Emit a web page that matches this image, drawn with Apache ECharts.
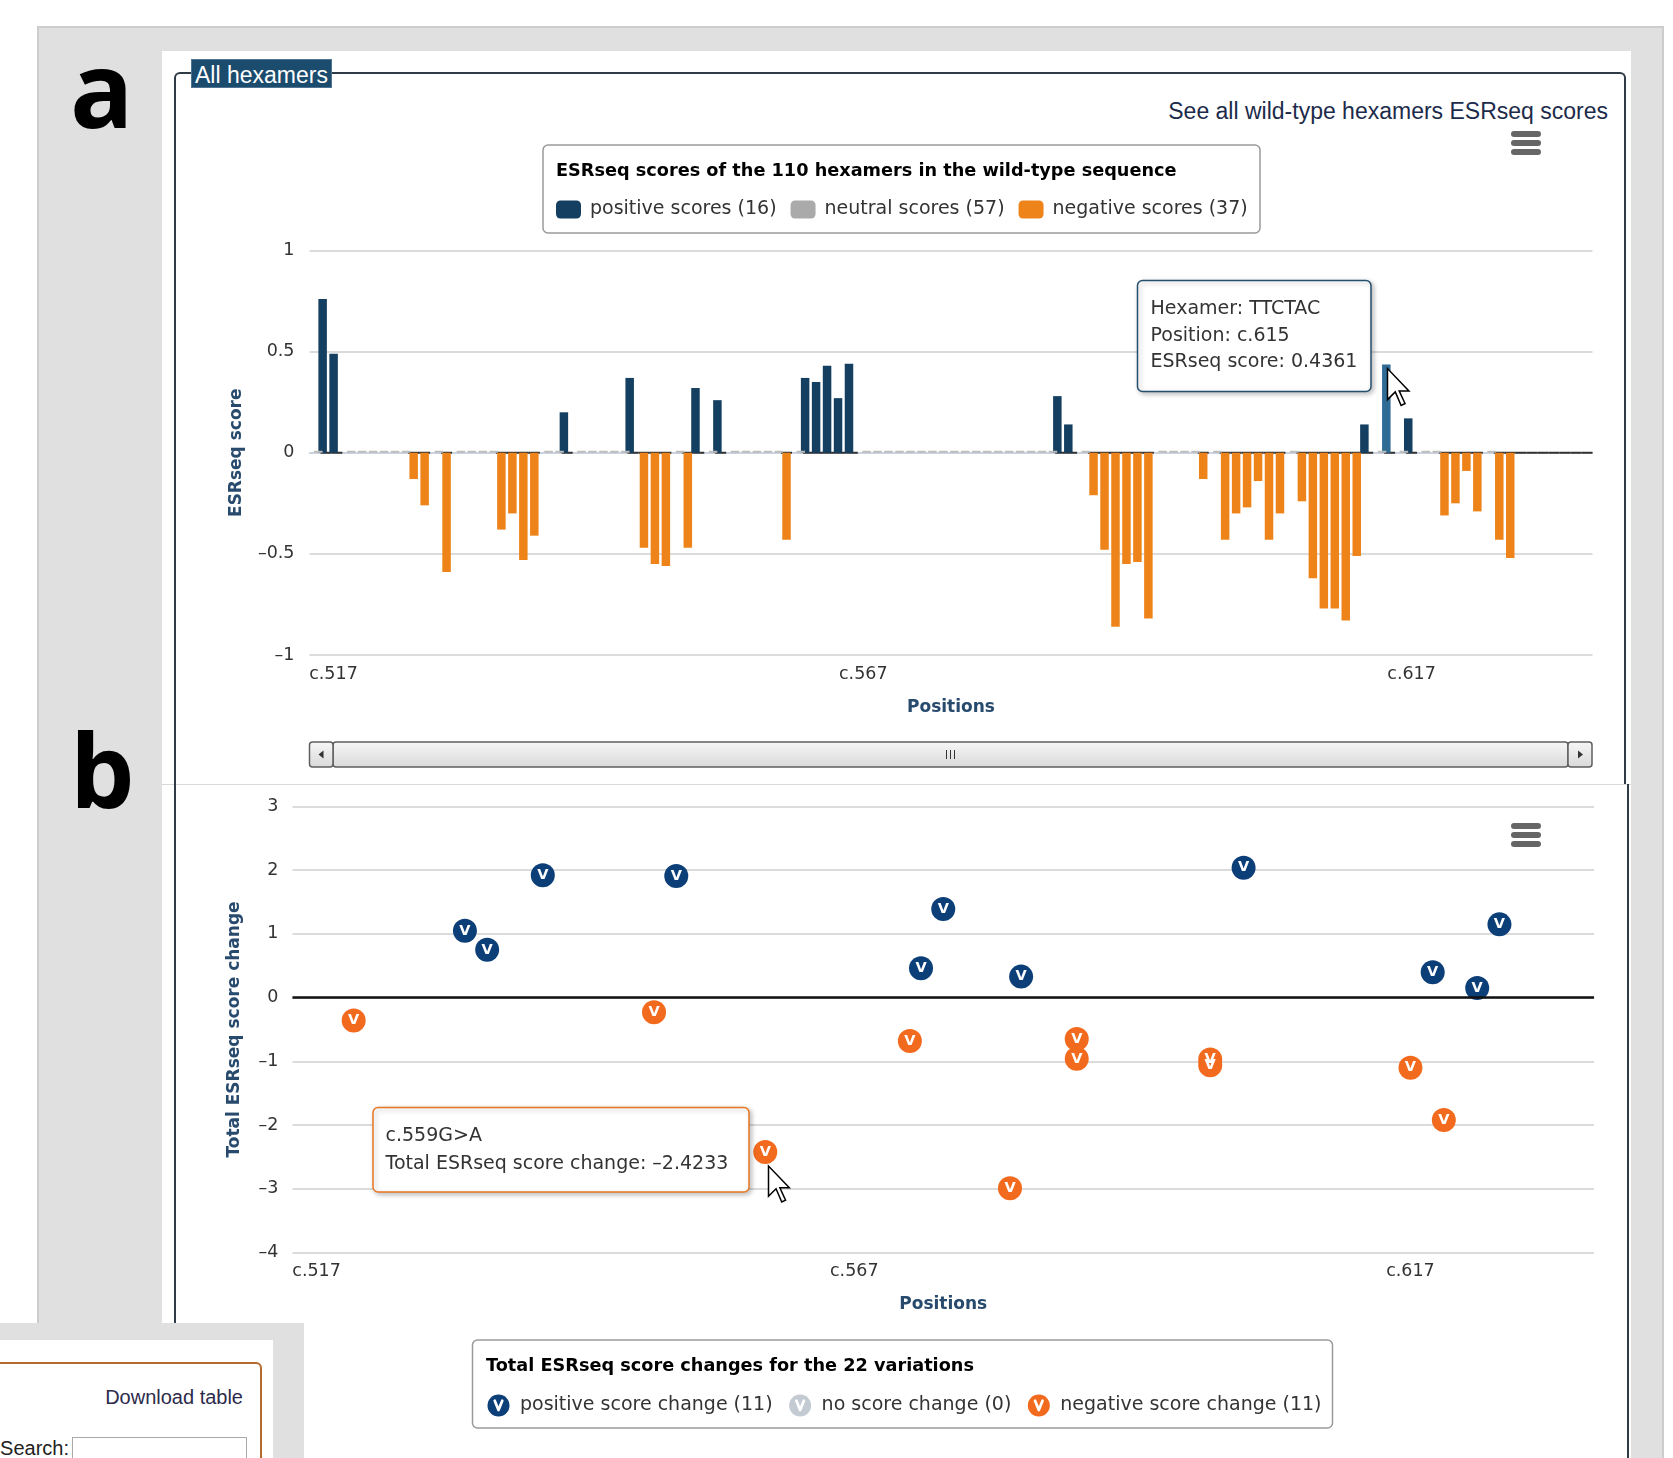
<!DOCTYPE html>
<html>
<head>
<meta charset="utf-8">
<title>ESRseq scores</title>
<script src="https://cdn.jsdelivr.net/npm/echarts@6.0.0/dist/echarts.min.js"></script>
<style>
  html, body { margin: 0; padding: 0; background: #fff; }
  #page { position: relative; width: 1673px; height: 1458px; overflow: hidden; font-family: 'Liberation Sans', Arial, sans-serif; }
  #page div { position: absolute; box-sizing: border-box; }
  #gray { left: 37px; top: 26px; width: 1627px; height: 1440px; background: #e0e0e0; border: 2px solid #cdcdcd; border-bottom: none; }
  #panelA { left: 162px; top: 51px; width: 1469px; height: 733px; background: #fff; }
  #panelB { left: 162px; top: 784px; width: 1469px; height: 680px; background: #fff; border-top: 1px solid #d9d9d9; }
  #frameA { left: 174px; top: 72px; width: 1452px; height: 712px; border: 2px solid #2f3b47; border-bottom: none; border-radius: 6px 6px 0 0; }
  #frameB { left: 174px; top: 784px; width: 1455px; height: 700px; border-left: 2px solid #2f3b47; border-right: 2px solid #2f3b47; }
  #tag { left: 191px; top: 59px; width: 141px; height: 29px; background: #1b4b6d; border: 1px solid #4f7592; color: #fff; font-size: 23px; line-height: 30px; padding-left: 3px; white-space: nowrap; overflow: hidden; }
  .big { font-family: 'Open Sans', sans-serif; font-weight: 700; font-size: 105px; line-height: 105px; color: #000; }
  #la { left: 70px; top: 35px; }
  #lb { left: 70px; top: 716px; font-size: 102px; }
  #seeall { right: 65px; top: 97px; font-size: 23px; line-height: 28px; color: #1c2b4a; white-space: nowrap; }
  #chart { left: 0; top: 0; width: 1673px; height: 1458px; }
  #dlGray { left: 0; top: 1323px; width: 304px; height: 140px; background: #e0e0e0; }
  #dlWhite { left: 0; top: 1340px; width: 273px; height: 130px; background: #fff; }
  #dlBox { left: -3px; top: 1362px; width: 265px; height: 120px; border: 2px solid #b5692e; border-radius: 0 6px 0 0; }
  #dl { left: 0; width: 243px; top: 1385px; text-align: right; font-size: 20px; line-height: 24px; color: #2d2b4b; }
  #search { left: 0; width: 69px; top: 1436px; text-align: right; font-size: 20px; line-height: 24px; color: #222; }
  #input { left: 72px; top: 1437px; width: 175px; height: 30px; border: 1px solid #a9a9a9; background: #fff; }
</style>
</head>
<body>
<div id="page">
  <div id="gray"></div>
  <div id="panelA"></div>
  <div id="panelB"></div>
  <div id="frameA"></div>
  <div id="frameB"></div>
  <div id="tag">All hexamers</div>
  <div id="la" class="big">a</div>
  <div id="lb" class="big">b</div>
  <div id="seeall">See all wild-type hexamers ESRseq scores</div>
  <div id="chart"></div>
  <div id="dlGray"></div>
  <div id="dlWhite"></div>
  <div id="dlBox"></div>
  <div id="dl">Download table</div>
  <div id="search">Search:</div>
  <div id="input"></div>
</div>
<script>
// positions shown on both x axes
const firstPosition = 517
const lastPosition = 633

// (a) ESRseq scores of the wild-type hexamers
const positivePositions = [518, 519, 540, 546, 552, 554, 562, 563, 564, 565, 566, 585, 586, 613, 615, 617]
const positiveScores = [0.76, 0.49, 0.20, 0.37, 0.32, 0.26, 0.37, 0.35, 0.43, 0.27, 0.44, 0.28, 0.14, 0.14, 0.4361, 0.17]
const negativePositions = [526, 527, 529, 534, 535, 536, 537, 547, 548, 549, 551, 560, 588, 589, 590, 591, 592, 593, 598,
  600, 601, 602, 603, 604, 605, 607, 608, 609, 610, 611, 612, 620, 621, 622, 623, 625, 626]
const negativeScores = [-0.13, -0.26, -0.59, -0.38, -0.30, -0.53, -0.41, -0.47, -0.55, -0.56, -0.47, -0.43, -0.21, -0.48, -0.86, -0.55, -0.54, -0.82, -0.13,
  -0.43, -0.30, -0.27, -0.14, -0.43, -0.30, -0.24, -0.62, -0.77, -0.77, -0.83, -0.51, -0.31, -0.25, -0.09, -0.29, -0.43, -0.52]
const neutralPositions = [517, 520, 521, 522, 523, 524, 525, 528, 530, 531, 532, 533, 538, 539, 541, 542, 543, 544, 545, 550, 553,
  555, 556, 557, 558, 559, 561, 567, 568, 569, 570, 571, 572, 573, 574, 575, 576, 577, 578, 579, 580, 581, 582, 583, 584,
  587, 594, 595, 596, 597, 599, 606, 614, 616, 618, 619, 624]
const neutralScores = [0, 0, 0, 0, 0, 0, 0, 0, 0, 0, 0, 0, 0, 0, 0, 0, 0, 0, 0, 0, 0,
  0, 0, 0, 0, 0, 0, 0, 0, 0, 0, 0, 0, 0, 0, 0, 0, 0, 0, 0, 0, 0, 0, 0, 0,
  0, 0, 0, 0, 0, 0, 0, 0, 0, 0, 0, 0]
const hoverHexamer = 'TTCTAC'
const hoverPosition = 615

// (b) total ESRseq score change of each variation
const positiveVarPositions = [532, 534, 539, 551, 573, 575, 582, 602, 619, 623, 625]
const positiveVarChanges = [1.05, 0.75, 1.92, 1.91, 0.46, 1.39, 0.33, 2.04, 0.40, 0.15, 1.15]
const zeroVarPositions = []
const zeroVarChanges = []
const negativeVarPositions = [522, 549, 559, 572, 581, 587, 587, 599, 599, 617, 620]
const negativeVarChanges = [-0.36, -0.23, -2.4233, -0.68, -2.99, -0.65, -0.96, -0.97, -1.06, -1.10, -1.92]
const hoverVariant = 'c.559G>A'
const hoverVariantIndex = 2

const fontMain = "'DejaVu Sans', Verdana, sans-serif"
const navy = '#274a6d'
const positiveColor = '#143f61'
const hoverColor = '#2f6b94'
const negativeColor = '#ee8419'
const neutralColor = '#bdbdbd'
const varBlue = '#0c3f78'
const varGray = '#b6bec8'
const varOrange = '#f26a1d'

let categories = []
for (let p = firstPosition; p <= lastPosition; p++) categories.push('c.' + p)

function minus (v) {
  return v < 0 ? '\u2013' + Math.abs(v) : String(v)
}

// one value per category, '-' where the series has no hexamer
function toBars (positions, values, styler) {
  let out = categories.map(() => '-')
  positions.forEach((p, i) => {
    out[p - firstPosition] = styler ? styler(p, values[i]) : values[i]
  })
  return out
}

function markerIcon (color) {
  let svg = '<svg xmlns="http://www.w3.org/2000/svg" width="46" height="46" viewBox="0 0 46 46">' +
    '<circle cx="23" cy="23" r="22" fill="' + color + '"/>' +
    '<path d="M15.5 13.5 L23 32 L30.5 13.5" fill="none" stroke="#fff" stroke-width="5.5" stroke-linejoin="round" stroke-linecap="round"/></svg>'
  return 'image://data:image/svg+xml;charset=utf-8,' + encodeURIComponent(svg)
}

function cursor (x, y, h) {
  let pts = [[0, 0], [0, 0.842], [0.21, 0.632], [0.368, 1], [0.474, 0.947], [0.316, 0.605], [0.579, 0.605]]
  return {
    type: 'polygon', z: 101, silent: true,
    shape: { points: pts.map(p => [x + p[0] * h, y + p[1] * h]) },
    style: { fill: '#fff', stroke: '#000', lineWidth: 1.5 }
  }
}

function hamburger (x, y) {
  return [0, 1, 2].map(k => ({
    type: 'rect', z: 1, silent: true,
    shape: { x: x, y: y + k * 9, width: 30, height: 6, r: 3 },
    style: { fill: '#666' }
  }))
}

const positiveName = 'positive scores (' + positivePositions.length + ')'
const neutralName = 'neutral scores (' + neutralPositions.length + ')'
const negativeName = 'negative scores (' + negativePositions.length + ')'
const posVarName = 'positive score change (' + positiveVarPositions.length + ')'
const zeroVarName = 'no score change (' + zeroVarPositions.length + ')'
const negVarName = 'negative score change (' + negativeVarPositions.length + ')'

let hoverScore = positiveScores[positivePositions.indexOf(hoverPosition)]
let posBars = toBars(positivePositions, positiveScores, (p, v) => p === hoverPosition ? { value: v, itemStyle: { color: hoverColor } } : v)
let negBars = toBars(negativePositions, negativeScores)
let neuBars = toBars(neutralPositions, neutralScores)
// dark zero line shows wherever there is no neutral hexamer
let zeroSegments = categories.map((c, i) => i).filter(i => neutralPositions.indexOf(i + firstPosition) < 0).map(i => [i, 0])

function xAxisFor (grid) {
  return {
    gridIndex: grid, type: 'category', data: categories, boundaryGap: true,
    axisLine: { lineStyle: { color: '#c6d2e0', width: 1.5 } },
    axisTick: { interval: (i) => i === 0 || i % 10 === 1, length: 8, lineStyle: { color: '#c6d2e0', width: 1.5 } },
    axisLabel: {
      interval: (i) => i % 50 === 0,
      margin: 10,
      fontFamily: fontMain, fontSize: 17.5, color: '#333',
      formatter: (v, i) => i === 0 ? '{first|' + v + '}' : v,
      rich: { first: { padding: [0, 0, 0, 37], fontFamily: fontMain, fontSize: 17.5, color: '#333' } }
    },
    splitLine: { show: false },
    name: 'Positions', nameLocation: 'middle', nameGap: 44,
    nameTextStyle: { fontFamily: fontMain, fontSize: 17, fontWeight: 'bold', color: navy }
  }
}

let option = {
  animation: false,
  textStyle: { fontFamily: fontMain },
  grid: [
    { left: 309.5, top: 250.5, width: 1283, height: 404.5 },
    { left: 292.5, top: 806.5, width: 1301.5, height: 446 }
  ],
  xAxis: [xAxisFor(0), xAxisFor(1)],
  yAxis: [
    {
      gridIndex: 0, type: 'value', min: -1, max: 1, interval: 0.5,
      axisLine: { show: false }, axisTick: { show: false },
      splitLine: { lineStyle: { color: '#cfcfcf', width: 1.5 } },
      axisLabel: { margin: 15, fontFamily: fontMain, fontSize: 17.5, color: '#333', formatter: minus },
      name: 'ESRseq score', nameLocation: 'middle', nameGap: 64,
      nameTextStyle: { fontFamily: fontMain, fontSize: 17, fontWeight: 'bold', color: navy }
    },
    {
      gridIndex: 1, type: 'value', min: -4, max: 3, interval: 1,
      axisLine: { show: false }, axisTick: { show: false },
      splitLine: { lineStyle: { color: '#cfcfcf', width: 1.5 } },
      axisLabel: { margin: 14, fontFamily: fontMain, fontSize: 17.5, color: '#333', formatter: minus },
      name: 'Total ESRseq score change', nameLocation: 'middle', nameGap: 49,
      nameTextStyle: { fontFamily: fontMain, fontSize: 17, fontWeight: 'bold', color: navy }
    }
  ],
  legend: [
    {
      left: 556, top: 200, padding: 0, itemWidth: 25, itemHeight: 18, itemGap: 14, icon: 'roundRect', selectedMode: false,
      data: [positiveName, { name: neutralName, itemStyle: { color: '#aaaaaa' } }, negativeName],
      textStyle: { fontFamily: fontMain, fontSize: 19, color: '#333', padding: [0, 0, 0, 4] }
    },
    {
      left: 487, top: 1394, padding: 0, itemWidth: 23, itemHeight: 23, itemGap: 16, selectedMode: false,
      data: [
        { name: posVarName, icon: markerIcon(varBlue) },
        { name: zeroVarName, icon: markerIcon(varGray) },
        { name: negVarName, icon: markerIcon(varOrange) }
      ],
      textStyle: { fontFamily: fontMain, fontSize: 19, color: '#333', padding: [0, 0, 0, 5] }
    }
  ],
  series: [
    {
      type: 'custom', xAxisIndex: 0, yAxisIndex: 0, z: 1, silent: true,
      data: zeroSegments,
      renderItem: function (params, api) {
        let c = api.coord([api.value(0), 0])
        let w = api.size([1, 0])[0]
        return {
          type: 'line',
          shape: { x1: c[0] - w / 2, y1: c[1], x2: c[0] + w / 2, y2: c[1] },
          style: { stroke: '#333', lineWidth: 2 }
        }
      }
    },
    {
      name: positiveName, type: 'bar', xAxisIndex: 0, yAxisIndex: 0, z: 2,
      data: posBars, barWidth: 8.5, barGap: '-61%',
      itemStyle: { color: positiveColor }
    },
    {
      name: negativeName, type: 'bar', xAxisIndex: 0, yAxisIndex: 0, z: 2,
      data: negBars, barWidth: 8.5, barGap: '-61%',
      itemStyle: { color: negativeColor }
    },
    {
      name: neutralName, type: 'bar', xAxisIndex: 0, yAxisIndex: 0, z: 3,
      data: neuBars, barWidth: 8.5, barGap: '-61%', barMinHeight: 2,
      itemStyle: { color: neutralColor }
    },
    {
      name: zeroVarName, type: 'scatter', xAxisIndex: 1, yAxisIndex: 1, z: 1,
      data: zeroVarPositions.map((p, i) => ['c.' + p, zeroVarChanges[i]]),
      itemStyle: { color: varGray },
      markLine: {
        silent: true, symbol: ['none', 'none'], label: { show: false },
        lineStyle: { color: '#111', width: 2.5, type: 'solid' },
        data: [{ yAxis: 0 }]
      }
    },
    {
      name: posVarName, type: 'scatter', xAxisIndex: 1, yAxisIndex: 1, z: 3,
      symbol: 'circle', symbolSize: 24,
      data: positiveVarPositions.map((p, i) => ['c.' + p, positiveVarChanges[i]]),
      itemStyle: { color: varBlue, opacity: 1 },
      label: { show: true, position: 'inside', formatter: 'V', color: '#fff', fontWeight: 'bold', fontSize: 14.5, fontFamily: fontMain }
    },
    {
      name: negVarName, type: 'scatter', xAxisIndex: 1, yAxisIndex: 1, z: 3,
      symbol: 'circle', symbolSize: 24,
      data: negativeVarPositions.map((p, i) => ['c.' + p, negativeVarChanges[i]]),
      itemStyle: { color: varOrange, opacity: 1 },
      label: { show: true, position: 'inside', formatter: 'V', color: '#fff', fontWeight: 'bold', fontSize: 14.5, fontFamily: fontMain }
    }
  ],
  graphic: [
    // legend frames and titles
    { type: 'rect', z: 1, silent: true, shape: { x: 543, y: 145, width: 717, height: 88, r: 5 }, style: { fill: '#fff', stroke: '#9a9a9a', lineWidth: 1.5 } },
    { type: 'text', z: 2, silent: true, x: 556, y: 171.5, style: { text: 'ESRseq scores of the ' + (positivePositions.length + neutralPositions.length + negativePositions.length) + ' hexamers in the wild-type sequence', fontFamily: fontMain, fontSize: 17.7, fontWeight: 'bold', fill: '#000', verticalAlign: 'middle' } },
    { type: 'rect', z: 1, silent: true, shape: { x: 472.5, y: 1340, width: 860, height: 88, r: 5 }, style: { fill: '#fff', stroke: '#9a9a9a', lineWidth: 1.5 } },
    { type: 'text', z: 2, silent: true, x: 486, y: 1366, style: { text: 'Total ESRseq score changes for the ' + (positiveVarPositions.length + zeroVarPositions.length + negativeVarPositions.length) + ' variations', fontFamily: fontMain, fontSize: 17.7, fontWeight: 'bold', fill: '#000', verticalAlign: 'middle' } },
    // scrollbar under chart a
    { type: 'rect', z: 1, silent: true, shape: { x: 333, y: 742, width: 1235, height: 25, r: 3 }, style: { fill: new echarts.graphic.LinearGradient(0, 0, 0, 1, [{ offset: 0, color: '#f7f7f7' }, { offset: 1, color: '#d9d9d9' }]), stroke: '#5f5f5f', lineWidth: 1.5 } },
    { type: 'rect', z: 1, silent: true, shape: { x: 309.5, y: 742, width: 23.5, height: 25, r: 3 }, style: { fill: new echarts.graphic.LinearGradient(0, 0, 0, 1, [{ offset: 0, color: '#f7f7f7' }, { offset: 1, color: '#d9d9d9' }]), stroke: '#5f5f5f', lineWidth: 1.5 } },
    { type: 'rect', z: 1, silent: true, shape: { x: 1568, y: 742, width: 24, height: 25, r: 3 }, style: { fill: new echarts.graphic.LinearGradient(0, 0, 0, 1, [{ offset: 0, color: '#f7f7f7' }, { offset: 1, color: '#d9d9d9' }]), stroke: '#5f5f5f', lineWidth: 1.5 } },
    { type: 'polygon', z: 2, silent: true, shape: { points: [[323.5, 750.5], [323.5, 758.5], [318.5, 754.5]] }, style: { fill: '#333' } },
    { type: 'polygon', z: 2, silent: true, shape: { points: [[1578, 750.5], [1578, 758.5], [1583, 754.5]] }, style: { fill: '#333' } },
    { type: 'line', z: 2, silent: true, shape: { x1: 946.5, y1: 750, x2: 946.5, y2: 759 }, style: { stroke: '#333', lineWidth: 1 } },
    { type: 'line', z: 2, silent: true, shape: { x1: 950.5, y1: 750, x2: 950.5, y2: 759 }, style: { stroke: '#333', lineWidth: 1 } },
    { type: 'line', z: 2, silent: true, shape: { x1: 954.5, y1: 750, x2: 954.5, y2: 759 }, style: { stroke: '#333', lineWidth: 1 } },
    ...hamburger(1511, 131),
    ...hamburger(1511, 823),
    // hover tooltips
    { type: 'rect', z: 100, silent: true, shape: { x: 1137.5, y: 280.5, width: 233.5, height: 111, r: 5 }, style: { fill: '#fff', stroke: '#24506f', lineWidth: 1.5, shadowBlur: 5, shadowOffsetX: 2, shadowOffsetY: 2, shadowColor: 'rgba(0,0,0,0.25)' } },
    { type: 'text', z: 101, silent: true, x: 1150.5, y: 296, style: { text: 'Hexamer: ' + hoverHexamer + '\nPosition: c.' + hoverPosition + '\nESRseq score: ' + hoverScore, fontFamily: fontMain, fontSize: 19, lineHeight: 26.5, fill: '#333', verticalAlign: 'top' } },
    { type: 'rect', z: 100, silent: true, shape: { x: 373, y: 1107.5, width: 376, height: 84.5, r: 5 }, style: { fill: '#fff', stroke: '#e87722', lineWidth: 1.5, shadowBlur: 5, shadowOffsetX: 2, shadowOffsetY: 2, shadowColor: 'rgba(0,0,0,0.25)' } },
    { type: 'text', z: 101, silent: true, x: 385.5, y: 1122.5, style: { text: hoverVariant + '\nTotal ESRseq score change: ' + minus(negativeVarChanges[hoverVariantIndex]), fontFamily: fontMain, fontSize: 19, lineHeight: 27.5, fill: '#333', verticalAlign: 'top' } },
    cursor(1387.5, 368.5, 37),
    cursor(768.5, 1166, 36)
  ]
}

let chart = echarts.init(document.getElementById('chart'))
chart.setOption(option)
</script>
</body>
</html>
